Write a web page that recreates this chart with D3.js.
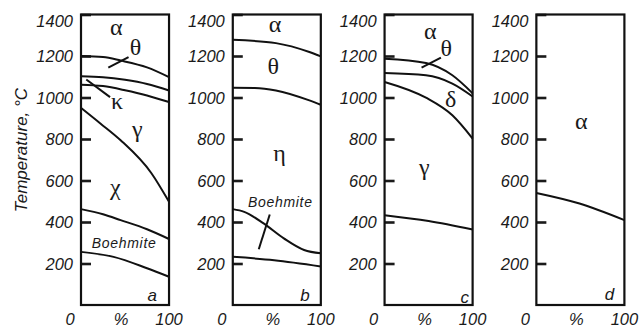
<html>
<head>
<meta charset="utf-8">
<script src="https://d3js.org/d3.v7.min.js"></script>
<style>
  body { margin: 0; background: #fff; }
  svg { display: block; }
</style>
</head>
<body>
<svg width="641" height="328"></svg>
<script>
// phase diagrams: temperature (C) against percent additive
const panelIds = ["a", "b", "c", "d"];
const tempTicks = [200, 400, 600, 800, 1000, 1200, 1400];
const pctLabels = [[0, "0"], [50, "%"], [100, "100"]];

// boundaries, [percent, temperature]
const curvesA = [
  [[0, 1200], [25, 1195], [45, 1178], [75, 1145], [100, 1098]],
  [[0, 1103], [25, 1098], [50, 1085], [75, 1065], [100, 1034]],
  [[0, 1062], [25, 1055], [50, 1035], [75, 1010], [100, 978]],
  [[0, 950], [22, 875], [45, 794], [80, 635], [100, 497]],
  [[0, 462], [25, 437], [45, 409], [75, 365], [100, 318]],
  [[0, 256], [37, 232], [75, 177], [100, 136]]
];
const curvesB = [
  [[0, 1278], [49, 1262], [87, 1219], [100, 1198]],
  [[0, 1047], [25, 1046], [49, 1034], [87, 986], [100, 965]],
  [[0, 462], [13, 449], [35, 393], [58, 321], [81, 265], [100, 249]],
  [[0, 232], [47, 216], [100, 186]]
];
const curvesC = [
  [[0, 1187], [47, 1166], [77, 1107], [100, 1020]],
  [[0, 1118], [47, 1107], [77, 1067], [100, 1005]],
  [[0, 1075], [47, 999], [77, 914], [100, 802]],
  [[0, 433], [50, 405], [100, 364]]
];
const curvesD = [
  [[0, 540], [49, 489], [100, 409]]
];

// short pointer strokes
const pointersA = [[[31, 1144], [54, 1195]], [[6, 1087], [33, 1002]]];
const pointersB = [[[29.5, 269], [42, 436]]];
const pointersC = [[[42, 1144], [64, 1192]]];
const pointersD = [];

// labels: [text, percent, temperature]
const labelsA = [["α", 40, 1333], ["θ", 62, 1238], ["κ", 41, 977], ["γ", 64, 842], ["χ", 39, 563], ["Boehmite", 49, 300], ["a", 81, 48]];
const labelsB = [["α", 48, 1347], ["θ", 46, 1147], ["η", 53, 726], ["Boehmite", 54, 497], ["b", 82, 48]];
const labelsC = [["α", 52, 1315], ["θ", 70, 1230], ["δ", 75, 986], ["γ", 45, 658], ["c", 91, 40]];
const labelsD = [["α", 51, 882], ["d", 83, 52]];

const curves = [curvesA, curvesB, curvesC, curvesD];
const pointers = [pointersA, pointersB, pointersC, pointersD];
const labels = [labelsA, labelsB, labelsC, labelsD];

const sans = '"Liberation Sans", Arial, sans-serif';
const serif = '"Liberation Serif", "Times New Roman", serif';
const ink = "#1a1a1a";

const svg = d3.select("svg");

const panelX = d3.scaleBand().domain(panelIds).range([81, 624.4]).paddingInner(0.42).paddingOuter(0);
const y = d3.scaleLinear().domain([0, 1400]).range([305, 14.5]);

svg.append("text")
  .attr("transform", "translate(27,150) rotate(-90)")
  .attr("text-anchor", "middle")
  .attr("font-family", sans)
  .attr("font-style", "italic")
  .attr("font-size", 17)
  .attr("fill", ink)
  .text("Temperature, °C");

panelIds.forEach(function(id, i) {
  const left = panelX(id);
  const x = d3.scaleLinear().domain([0, 100]).range([left, left + panelX.bandwidth()]);
  const g = svg.append("g");

  const line = d3.line()
    .x(function(d) { return x(d[0]); })
    .y(function(d) { return y(d[1]); })
    .curve(d3.curveMonotoneX);

  // y axis: ticks point inward, labels outside
  const ax = g.append("g")
    .attr("transform", "translate(" + left + ",0)")
    .call(d3.axisLeft(y).tickValues(tempTicks).tickFormat(d3.format("d"))
      .tickSizeInner(-10).tickSizeOuter(0).tickPadding(8));
  ax.attr("font-family", sans).attr("font-size", 16.5).attr("font-style", "italic");
  ax.select(".domain").remove();
  ax.selectAll(".tick line").attr("stroke", ink).attr("stroke-width", 2.6);
  ax.selectAll(".tick text")
    .attr("fill", ink)
    .attr("dy", function(d) { return d === 1400 ? "0.75em" : "0.34em"; });

  g.selectAll("path.curve")
    .data(curves[i])
    .enter().append("path")
    .attr("class", "curve")
    .attr("d", line)
    .attr("fill", "none")
    .attr("stroke", "#111")
    .attr("stroke-width", 2);

  g.selectAll("line.ptr")
    .data(pointers[i])
    .enter().append("line")
    .attr("class", "ptr")
    .attr("x1", function(d) { return x(d[0][0]); })
    .attr("y1", function(d) { return y(d[0][1]); })
    .attr("x2", function(d) { return x(d[1][0]); })
    .attr("y2", function(d) { return y(d[1][1]); })
    .attr("stroke", "#111")
    .attr("stroke-width", 2);

  g.selectAll("text.lab")
    .data(labels[i])
    .enter().append("text")
    .attr("class", "lab")
    .attr("x", function(d) { return x(d[1]); })
    .attr("y", function(d) { return y(d[2]); })
    .attr("text-anchor", "middle")
    .attr("dy", function(d) { return /[A-Za-z]/.test(d[0]) ? "0.35em" : "0.28em"; })
    .attr("font-family", function(d) { return /[A-Za-z]/.test(d[0]) ? sans : serif; })
    .attr("font-style", function(d) { return /[A-Za-z]/.test(d[0]) ? "italic" : "normal"; })
    .attr("font-size", function(d) {
      if (!/[A-Za-z]/.test(d[0])) return 24;
      return d[0].length === 1 ? 17 : 14;
    })
    .attr("letter-spacing", function(d) { return d[0].length > 1 ? 0.7 : null; })
    .attr("fill", ink)
    .text(function(d) { return d[0]; });

  g.append("rect")
    .attr("x", x(0))
    .attr("y", y(1400))
    .attr("width", x(100) - x(0))
    .attr("height", y(0) - y(1400))
    .attr("fill", "none")
    .attr("stroke", "#111")
    .attr("stroke-width", 2.2);

  g.selectAll("text.xlab")
    .data(pctLabels)
    .enter().append("text")
    .attr("class", "xlab")
    .attr("x", function(d) { return x(d[0]) + (d[0] === 0 ? -11 : d[0] === 50 ? -4 : 0); })
    .attr("y", 325)
    .attr("text-anchor", "middle")
    .attr("font-family", sans)
    .attr("font-style", "italic")
    .attr("font-size", 16.5)
    .attr("fill", ink)
    .text(function(d) { return d[1]; });
});
</script>
</body>
</html>
